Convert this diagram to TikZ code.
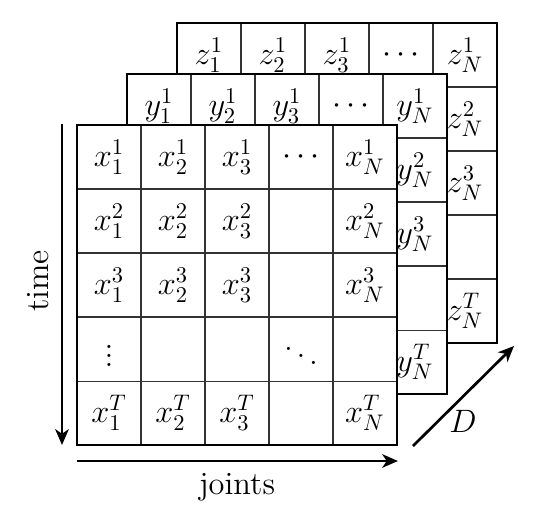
\documentclass[tikz,border=0pt]{standalone}
\usetikzlibrary{arrows.meta}
\tikzset{
  inner/.style={line width=0.45pt, black!80},
  outer/.style={line width=1pt, black},
  cell/.style={inner sep=0pt, font=\Large},
  arr/.style={line width=1.2pt, -{Stealth[length=7pt,width=6pt,inset=2pt]}},
  lbl/.style={inner sep=0pt, font=\Large},
}
\newcommand\gridlayer[3]{%
  \fill[white] (#2,#3) rectangle ++(320,320);
  \foreach \i in {1,...,4}{
    \draw[inner] (#2+64*\i,#3) -- ++(0,320);
    \draw[inner] (#2,#3+64*\i) -- ++(320,0);
  }
  \draw[outer] (#2,#3) rectangle ++(320,320);
  \foreach \c/\s in {1/1,2/2,3/3,5/N}{
    \node[cell] (#1-1-\c) at (#2+32+64*\c-64,#3+32) {$#1^{1}_{\s}$};
  }
  \node[cell] (#1-1-4) at (#2+32+64*3,#3+32) {$\cdots$};
  \foreach \r/\s in {2/2,3/3,5/T}{
    \node[cell] (#1-\r-5) at (#2+32+64*4,#3+32+64*\r-64) {$#1^{\s}_{N}$};
  }
}
\begin{document}
\begin{tikzpicture}[x=0.015625cm, y={(0cm,-0.015625cm)}]
\useasboundingbox (0,0) rectangle (540,516);
\gridlayer{z}{177}{23}
\gridlayer{y}{127}{74}
\gridlayer{x}{77}{125}
% remaining cells of the front layer
\foreach \r/\s in {2/2,3/3,5/T}{
  \foreach \c in {1,2,3}{
    \node[cell] (x-\r-\c) at (77+32+64*\c-64,125+32+64*\r-64) {$x^{\s}_{\c}$};
  }
}
\node[cell] (x-4-1) at (77+32,125+32+64*3) {$\vdots$};
\node[cell] (x-4-4) at (77+32+64*3,125+32+64*3) {$\ddots$};
% axes
\coordinate (t0) at (62,124);
\coordinate (t1) at (62,445);
\coordinate (j0) at (77,461);
\coordinate (j1) at (398,461);
\coordinate (d0) at (413,446);
\coordinate (d1) at (514,346);
\draw[arr] (t0) -- (t1);
\draw[arr] (j0) -- (j1);
\draw[arr] (d0) -- (d1);
\node[lbl, rotate=90] (time) at (38,281) {time};
\node[lbl] (joints) at (237,487) {joints};
\node[lbl] (D) at (463,421) {$D$};
\end{tikzpicture}
\end{document}
